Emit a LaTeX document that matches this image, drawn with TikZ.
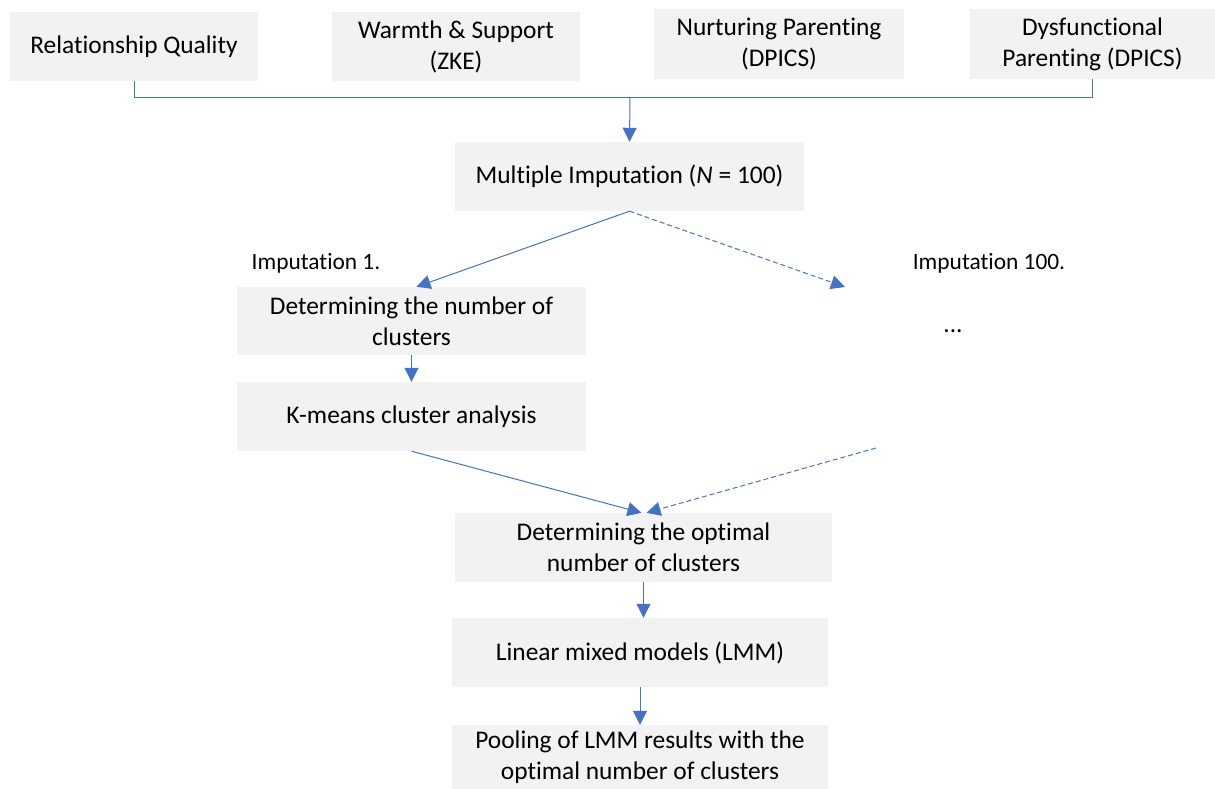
\documentclass[tikz,border=0pt]{standalone}
\usepackage{fontspec}
\setmainfont{Carlito}[RawFeature={-liga;-clig;-dlig;-calt}]
\usetikzlibrary{arrows.meta}
\definecolor{boxfill}{HTML}{F2F2F2}
\definecolor{lineblue}{HTML}{4472C4}
\begin{document}
\begin{tikzpicture}[x=1pt,y=-1pt,
  box/.style={fill=boxfill, draw=none, inner sep=0pt, align=center,
    font=\fontsize{25.4}{31}\selectfont},
  lbl/.style={inner sep=0pt, font=\fontsize{23.4}{28}\selectfont},
  conn/.style={draw=lineblue, line width=1pt},
  arr/.style={conn, -{Triangle[length=14pt,width=14pt]}},
  dashline/.style={dash pattern=on 5pt off 3pt}]
\useasboundingbox (0,0) rectangle (1215,789);
% top row
\node[box, minimum width=248pt, minimum height=69pt] (rq) at (134,46.5) {Relationship Quality};
\node[box, minimum width=248pt, minimum height=69pt] (ws) at (456,46.5) {Warmth \& Support\\(ZKE)};
\node[box, minimum width=250pt, minimum height=70pt] (np) at (779,44) {Nurturing Parenting\\(DPICS)};
\node[box, minimum width=245pt, minimum height=70pt] (dp) at (1092.5,44) {Dysfunctional\\Parenting (DPICS)};
% main column
\node[box, minimum width=349pt, minimum height=69pt] (mi) at (629.5,176.5) {Multiple Imputation (\textit{N} = 100)};
\node[box, minimum width=349pt, minimum height=68pt] (dn) at (411.5,321) {Determining the number of\\clusters};
\node[box, minimum width=349pt, minimum height=69pt] (km) at (411.5,416.5) {K-means cluster analysis};
\node[box, minimum width=377pt, minimum height=69pt] (op) at (643.5,547.5) {Determining the optimal\\number of clusters};
\node[box, minimum width=376pt, minimum height=69pt] (lm) at (640,652.5) {Linear mixed models (LMM)};
\node[box, minimum width=376pt, minimum height=64pt] (po) at (640,757) {Pooling of LMM results with the\\optimal number of clusters};
% labels
\node[lbl] (l1) at (316,263) {Imputation 1.};
\node[lbl] (l100) at (989,263) {Imputation 100.};
\node[box, fill=none] (dots) at (953,331) {...};
% coordinates
\coordinate (busmid) at (630,97);
\coordinate (i100) at (845,287);
\coordinate (e100) at (876,448);
% connectors
\draw[conn] (rq.south) -- ++(0,16) -| (dp.south);
\draw[arr] (busmid) -- (mi.north);
\draw[arr] (mi.south) -- ([xshift=5pt]dn.north);
\draw[arr, dashline] (mi.south) -- (i100);
\draw[arr] (dn.south) -- (km.north);
\draw[arr] (km.south) -- ([xshift=-2pt]op.north);
\draw[arr, dashline] (e100) -- ([xshift=3pt]op.north);
\draw[arr] (op.south) -- (op.south |- lm.north);
\draw[arr] (lm.south) -- (lm.south |- po.north);
\end{tikzpicture}
\end{document}
